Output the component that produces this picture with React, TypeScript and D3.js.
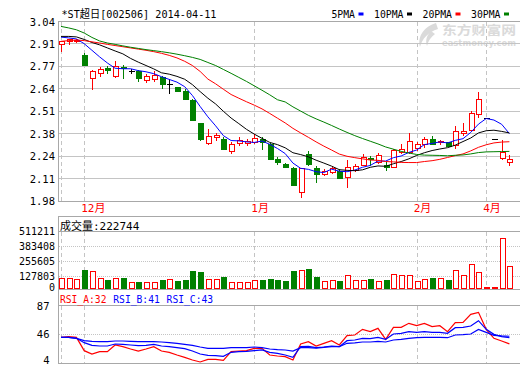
import React from "react";
import * as d3 from "d3";

const titleText = "*ST超日[002506] 2014-04-11";
const maLabels = ["5PMA", "10PMA", "20PMA", "30PMA"];
const maColors = ["#0000ff", "#000000", "#ff0000", "#008000"];

const openP = [2.906, 2.922, 2.925, 2.844, 2.708, 2.738, 2.763, 2.720, 2.771, 2.747,
  2.747, 2.693, 2.698, 2.714, 2.669, 2.651, 2.630, 2.579, 2.438, 2.323,
  2.355, 2.349, 2.276, 2.320, 2.323, 2.326, 2.345, 2.317, 2.227, 2.200,
  2.176, 2.033, 2.255, 2.176, 2.141, 2.149, 2.158, 2.120, 2.163, 2.194,
  2.233, 2.210, 2.192, 2.182, 2.270, 2.270, 2.294, 2.316, 2.345, 2.326,
  2.329, 2.310, 2.379, 2.398, 2.491, 2.468, 2.345, 2.231, 2.211];
const highP = [2.922, 2.937, 2.937, 2.853, 2.756, 2.771, 2.777, 2.804, 2.781, 2.761,
  2.753, 2.728, 2.746, 2.720, 2.700, 2.655, 2.644, 2.582, 2.440, 2.408,
  2.379, 2.355, 2.326, 2.359, 2.349, 2.373, 2.355, 2.323, 2.241, 2.205,
  2.182, 2.176, 2.274, 2.188, 2.167, 2.178, 2.168, 2.221, 2.198, 2.257,
  2.243, 2.264, 2.211, 2.290, 2.314, 2.382, 2.329, 2.355, 2.365, 2.343,
  2.329, 2.422, 2.438, 2.510, 2.624, 2.468, 2.345, 2.343, 2.251];
const lowP = [2.865, 2.909, 2.920, 2.781, 2.644, 2.718, 2.736, 2.712, 2.706, 2.736,
  2.688, 2.683, 2.688, 2.647, 2.618, 2.630, 2.582, 2.458, 2.343, 2.317,
  2.339, 2.290, 2.261, 2.308, 2.310, 2.320, 2.290, 2.226, 2.198, 2.180,
  2.074, 2.002, 2.190, 2.094, 2.131, 2.143, 2.117, 2.064, 2.158, 2.190,
  2.192, 2.205, 2.163, 2.178, 2.262, 2.266, 2.280, 2.300, 2.316, 2.316,
  2.304, 2.294, 2.369, 2.398, 2.476, 2.468, 2.345, 2.230, 2.192];
const closeP = [2.922, 2.934, 2.930, 2.781, 2.747, 2.762, 2.753, 2.779, 2.763, 2.747,
  2.708, 2.718, 2.722, 2.673, 2.669, 2.630, 2.582, 2.461, 2.347, 2.363,
  2.367, 2.290, 2.317, 2.339, 2.332, 2.353, 2.327, 2.226, 2.211, 2.182,
  2.074, 2.174, 2.196, 2.138, 2.157, 2.173, 2.117, 2.182, 2.188, 2.237,
  2.226, 2.249, 2.182, 2.284, 2.288, 2.333, 2.316, 2.345, 2.316, 2.335,
  2.304, 2.392, 2.392, 2.502, 2.581, 2.468, 2.345, 2.270, 2.227];
const volume = [114000, 114000, 106000, 185000, 176000, 114000, 100000, 114000, 114000, 80000,
  80000, 80000, 80000, 100000, 108000, 91000, 100000, 176000, 168000, 106000,
  106000, 122000, 85000, 85000, 85000, 100000, 100000, 108000, 100000, 91000,
  176000, 185000, 193000, 122000, 91000, 100000, 91000, 140000, 100000, 100000,
  106000, 91000, 100000, 148000, 140000, 140000, 91000, 106000, 114000, 114000,
  100000, 182000, 140000, 233000, 168000, 37000, 37000, 455000, 222744];

const ma5 = [2.948, 2.943, 2.937, 2.909, 2.870, 2.831, 2.795, 2.764, 2.761, 2.761,
  2.750, 2.743, 2.732, 2.714, 2.698, 2.682, 2.655, 2.603, 2.538, 2.477,
  2.424, 2.366, 2.337, 2.335, 2.329, 2.326, 2.334, 2.315, 2.290, 2.260,
  2.204, 2.173, 2.167, 2.153, 2.148, 2.168, 2.156, 2.153, 2.163, 2.179,
  2.190, 2.216, 2.216, 2.236, 2.246, 2.267, 2.281, 2.313, 2.320, 2.329,
  2.323, 2.338, 2.348, 2.385, 2.434, 2.467, 2.458, 2.433, 2.378];
const ma10 = [2.952, 2.952, 2.949, 2.934, 2.916, 2.902, 2.884, 2.866, 2.849, 2.822,
  2.800, 2.780, 2.760, 2.737, 2.729, 2.716, 2.699, 2.667, 2.626, 2.587,
  2.553, 2.510, 2.470, 2.437, 2.403, 2.375, 2.350, 2.326, 2.313, 2.294,
  2.265, 2.254, 2.241, 2.221, 2.204, 2.186, 2.165, 2.161, 2.159, 2.164,
  2.179, 2.187, 2.185, 2.200, 2.213, 2.229, 2.249, 2.265, 2.278, 2.287,
  2.295, 2.310, 2.331, 2.352, 2.382, 2.395, 2.398, 2.391, 2.382];
const ma20 = [2.923, 2.927, 2.931, 2.927, 2.920, 2.913, 2.905, 2.898, 2.891, 2.884,
  2.877, 2.870, 2.862, 2.852, 2.840, 2.825, 2.805, 2.780, 2.745, 2.700,
  2.672, 2.640, 2.609, 2.587, 2.566, 2.546, 2.524, 2.497, 2.469, 2.441,
  2.409, 2.382, 2.356, 2.329, 2.304, 2.281, 2.257, 2.244, 2.236, 2.229,
  2.222, 2.220, 2.213, 2.211, 2.208, 2.207, 2.207, 2.213, 2.218, 2.226,
  2.237, 2.248, 2.258, 2.276, 2.297, 2.312, 2.323, 2.328, 2.330];
const ma30 = [3.011, 3.002, 2.991, 2.972, 2.946, 2.925, 2.913, 2.905, 2.896, 2.888,
  2.881, 2.874, 2.868, 2.862, 2.855, 2.847, 2.838, 2.828, 2.816, 2.798,
  2.780, 2.757, 2.734, 2.710, 2.686, 2.660, 2.634, 2.607, 2.578, 2.565,
  2.536, 2.511, 2.486, 2.465, 2.446, 2.426, 2.405, 2.385, 2.366, 2.349,
  2.333, 2.317, 2.299, 2.286, 2.273, 2.263, 2.255, 2.251, 2.250, 2.249,
  2.247, 2.250, 2.252, 2.258, 2.266, 2.270, 2.271, 2.272, 2.273];

const rsiA = [41.4, 42.4, 41.4, 22.2, 17.4, 20.8, 20.8, 30.4, 28.0, 24.6,
  21.7, 24.6, 28.0, 21.7, 19.8, 16.0, 12.6, 8.8, 5.9, 9.7,
  9.7, 8.3, 20.8, 21.7, 22.2, 25.6, 25.6, 16.0, 14.5, 13.6,
  8.8, 31.8, 35.2, 28.9, 32.8, 36.6, 30.4, 43.8, 44.8, 52.9,
  49.6, 54.4, 38.5, 55.8, 55.8, 61.6, 58.2, 61.6, 56.8, 58.2,
  49.6, 62.5, 63.0, 74.5, 77.4, 52.9, 40.0, 36.1, 32];
const rsiB = [41.4, 41.4, 40.0, 33.7, 29.9, 28.9, 28.9, 31.8, 31.3, 30.4,
  29.4, 29.9, 31.3, 28.9, 28.0, 26.5, 25.1, 21.7, 17.4, 15.5,
  15.0, 14.1, 19.8, 20.8, 21.3, 22.2, 23.2, 19.8, 18.4, 16.0,
  12.6, 28.0, 28.4, 26.5, 27.5, 28.9, 28.0, 36.6, 37.6, 40.0,
  39.5, 41.4, 38.5, 46.2, 47.2, 49.6, 48.6, 49.6, 48.6, 48.6,
  47.2, 55.3, 55.8, 57.7, 65.4, 52.9, 45.7, 42.5, 41];
const rsiC = [41.4, 41.4, 40.0, 36.6, 35.6, 35.2, 35.2, 36.1, 36.1, 35.6,
  35.2, 35.2, 35.2, 34.7, 33.7, 32.8, 31.3, 29.9, 27.5, 25.6,
  25.6, 25.6, 26.5, 26.5, 26.5, 27.5, 26.5, 24.6, 23.6, 23.2,
  21.7, 26.5, 26.5, 26.0, 27.0, 28.0, 28.0, 32.8, 33.3, 34.7,
  34.7, 35.6, 34.7, 37.6, 38.5, 40.0, 40.9, 41.4, 41.4, 41.4,
  40.9, 44.8, 45.2, 46.2, 52.9, 48.6, 44.3, 43.5, 43];

const priceTickValues = [1.98, 2.1125, 2.245, 2.3775, 2.51, 2.6425, 2.775, 2.9075, 3.04];
const priceTickLabels = ["1.98", "2.11", "2.24", "2.38", "2.51", "2.64", "2.77", "2.91", "3.04"];
const volTickValues = [0, 127803, 255605, 383408, 511211];
const rsiTickValues = [4, 46, 87];
const monthTickIndex = [0, 3, 25, 46, 55];
const monthTickLabels = ["", "12月", "1月", "2月", "4月"];
const volTitle = "成交量:222744";
const rsiTitles = ["RSI_A:32", "RSI_B:41", "RSI_C:43"];
const rsiColors = ["#ff0000", "#0000ff", "#0000ff"];
const watermarkCn = "东方财富网";
const watermarkEn = "eastmoney.com";

const MONO = "'DejaVu Sans Mono', 'Liberation Mono', 'Noto Sans CJK SC', monospace";
const RED = "#ff0000";
const GREEN = "#008000";
const GRID = "#c4c4c4";
const FRAME = "#a8a8a8";

const px = (v: number) => Math.round(v) + 0.5;

export default function App() {
  const n = closeP.length;
  const L = 58.5;
  const R = 519.5;
  const mainTop = 21.5, mainBot = 201;
  const volTop = 216, volBot = 289.3;
  const rsiBot = 363.3;

  const x = d3.scaleLinear().domain([0, n - 1]).range([61, 509.4]);
  const yP = d3.scaleLinear().domain([1.98, 3.04]).range([mainBot, mainTop]);
  const yV = d3.scaleLinear().domain([0, 511211]).range([291.7, 231.7]);
  const yR = d3.scaleLinear().domain([4, 87]).range([rsiBot, 305.7]);

  const priceLine = d3.line<number>().x((_, i) => x(i)).y((d) => yP(d));
  const rsiLine = d3.line<number>().x((_, i) => x(i)).y((d) => yR(d));
  const mas = [ma5, ma10, ma20, ma30];
  const rsis = [rsiA, rsiB, rsiC];

  let lx = 331.5;
  const legend = maLabels.map((lab, k) => {
    const w = lab.length * 6;
    const item = { lab, tx: lx, sx: lx + w + 3, color: maColors[k], w };
    lx = lx + w + 3 + 5 + 10.5;
    return item;
  });

  return (
    <svg width={520} height={365} style={{ position: "absolute", left: 0, top: 0, background: "#fff" }}
      fontFamily={MONO}>
      <rect x={0} y={0} width={520} height={365} fill="#fff" />

      {/* watermark */}
      <g fill="#dadada">
        <path d="M436 23 C425 26 417 36 420 47 C422 39 428 32 438 29 Z" />
        <path d="M431 31 C427 35 425 40 427 46 C428 41 431 37 435 34 Z" />
        <text x={442} y={35} fontSize={12.5} fontWeight="bold" textLength={74} lengthAdjust="spacingAndGlyphs"
          fontFamily="'Noto Sans CJK SC', sans-serif">{watermarkCn}</text>
        <text x={442} y={45.5} fontSize={8} fontWeight="bold" textLength={74} lengthAdjust="spacingAndGlyphs"
          fontFamily="'DejaVu Sans', sans-serif">{watermarkEn}</text>
      </g>

      {/* grid and frames */}
      <g shapeRendering="crispEdges">
        {priceTickValues.map((v, k) => (
          <line key={"pg" + k} x1={L} x2={R} y1={px(yP(v) - 0.5)} y2={px(yP(v) - 0.5)}
            stroke={k === 0 || k === priceTickValues.length - 1 ? FRAME : GRID} strokeWidth={1} />
        ))}
        {volTickValues.map((v, k) => (
          k === 0 ? null :
          <line key={"vg" + k} x1={L} x2={R} y1={px(yV(v) - 0.5)} y2={px(yV(v) - 0.5)}
            stroke={k === volTickValues.length - 1 ? FRAME : GRID} strokeDasharray={k === volTickValues.length - 1 ? undefined : "1,1"} />
        ))}
        <line x1={L} x2={R} y1={px(volTop - 0.5)} y2={px(volTop - 0.5)} stroke={FRAME} />
        <line x1={L} x2={R} y1={px(volBot - 0.5)} y2={px(volBot - 0.5)} stroke={FRAME} />
        <line x1={L} x2={R} y1={px(yR(87) - 0.5)} y2={px(yR(87) - 0.5)} stroke={FRAME} />
        <line x1={L} x2={R} y1={px(yR(46) - 0.5)} y2={px(yR(46) - 0.5)} stroke={GRID} strokeDasharray="1,1" />
        <line x1={L} x2={R} y1={px(rsiBot - 0.5)} y2={px(rsiBot - 0.5)} stroke={FRAME} />
        {monthTickIndex.map((idx, k) => (
          <g key={"mv" + k}>
            <line x1={px(x(idx))} x2={px(x(idx))} y1={mainTop} y2={mainBot} stroke={GRID} strokeDasharray="4,3" />
            <line x1={px(x(idx))} x2={px(x(idx))} y1={yV(511211)} y2={volBot} stroke={GRID} strokeDasharray="4,3" />
            <line x1={px(x(idx))} x2={px(x(idx))} y1={yR(87)} y2={rsiBot} stroke={GRID} strokeDasharray="4,3" />
          </g>
        ))}
        <line x1={L} x2={L} y1={mainTop - 0.5} y2={mainBot + 0.5} stroke={FRAME} strokeWidth={1.5} />
        <line x1={L} x2={L} y1={volTop - 0.5} y2={rsiBot + 0.5} stroke={FRAME} strokeWidth={1.5} />
      </g>

      {/* candles */}
      <g shapeRendering="crispEdges">
        {closeP.map((c, i) => {
          const o = openP[i];
          const cx = Math.round(x(i));
          const col = c > o ? RED : c < o ? GREEN : "#000";
          const top = Math.round(yP(Math.max(o, c)));
          const bot = Math.round(yP(Math.min(o, c)));
          const hy = Math.round(yP(highP[i]));
          const ly = Math.round(yP(lowP[i]));
          return (
            <g key={"c" + i}>
              <line x1={cx + 0.5} x2={cx + 0.5} y1={hy} y2={ly + 1} stroke={col} />
              {c > o && (
                <rect x={cx - 2 + 0.5} y={top + 0.5} width={5} height={Math.max(1, bot - top)} fill="#fff" stroke={RED} />
              )}
              {c < o && (
                <rect x={cx - 2} y={top} width={6} height={Math.max(1, bot - top + 1)} fill={GREEN} />
              )}
              {c === o && (
                <line x1={cx - 2} x2={cx + 4} y1={top + 0.5} y2={top + 0.5} stroke="#000" />
              )}
            </g>
          );
        })}
      </g>

      {/* moving averages */}
      <g fill="none" strokeWidth={1}>
        {mas.map((arr, k) => (
          <path key={"ma" + k} d={priceLine(arr) || ""} stroke={maColors[k]} />
        ))}
      </g>

      {/* volume bars */}
      <g shapeRendering="crispEdges">
        {volume.map((v, i) => {
          const up = closeP[i] >= openP[i];
          const cx = Math.round(x(i));
          const top = Math.round(yV(v));
          const bot = Math.round(volBot) - 1;
          const h = Math.max(1, bot - top);
          return up ? (
            <rect key={"v" + i} x={cx - 2 + 0.5} y={top + 0.5} width={5} height={h} fill="#fff" stroke={RED} />
          ) : (
            <rect key={"v" + i} x={cx - 2} y={top} width={6} height={h + 1} fill={GREEN} />
          );
        })}
      </g>

      {/* rsi lines */}
      <g fill="none" strokeWidth={1.2}>
        {rsis.map((arr, k) => (
          <path key={"r" + k} d={rsiLine(arr) || ""} stroke={rsiColors[k]} />
        ))}
      </g>

      {/* texts */}
      <text x={61.5} y={18} fontSize={11} textLength={155} lengthAdjust="spacingAndGlyphs" fill="#000">{titleText}</text>
      {legend.map((it, k) => (
        <g key={"lg" + k}>
          <text x={it.tx} y={18} fontSize={10} textLength={it.w - 0.5} lengthAdjust="spacingAndGlyphs" fill="#000">{it.lab}</text>
          <rect x={it.sx} y={12.5} width={5} height={3} fill={it.color} />
        </g>
      ))}
      {priceTickValues.map((v, k) => (
        <text key={"pl" + k} x={55} y={yP(v) + 4} fontSize={10.5} textAnchor="end" fill="#000">{priceTickLabels[k]}</text>
      ))}
      {monthTickIndex.map((idx, k) => (
        <text key={"ml" + k} x={x(idx) - 3} y={211.5} fontSize={11} fill={RED}>{monthTickLabels[k]}</text>
      ))}
      <text x={60} y={229.5} fontSize={11} fill="#000">{volTitle}</text>
      {volTickValues.map((v, k) => (
        <text key={"vl" + k} x={55} y={k === 0 ? 290.5 : yV(v) + 3.5} fontSize={10} textAnchor="end" fill="#000">{String(v)}</text>
      ))}
      {rsiTitles.map((t, k) => (
        <text key={"rt" + k} x={60 + k * 53.3} y={303} fontSize={10.5} textLength={46.5} lengthAdjust="spacingAndGlyphs" fill={rsiColors[k]}>{t}</text>
      ))}
      {rsiTickValues.map((v, k) => (
        <text key={"rl" + k} x={49.5} y={k === 0 ? 364 : yR(v) + 4} fontSize={10.5} textAnchor="end" fill="#000">{String(v)}</text>
      ))}
    </svg>
  );
}
